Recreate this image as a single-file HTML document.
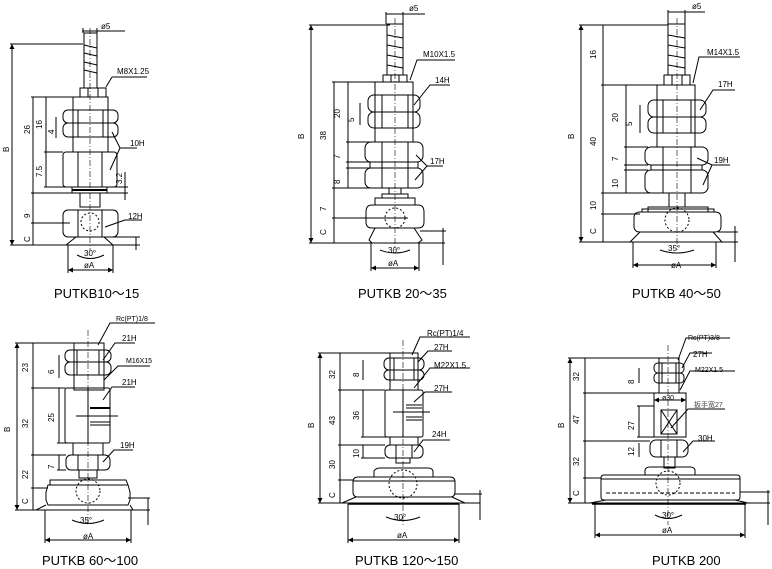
<!DOCTYPE html>
<html><head><meta charset="utf-8"><style>
html,body{margin:0;padding:0;background:#fff;}
svg{display:block}
text{font-family:"Liberation Sans","Noto Sans CJK SC",sans-serif;fill:#000}
.s{font-size:8px}
.t{font-size:13px}
</style></head><body>
<svg width="772" height="569" viewBox="0 0 772 569" xmlns="http://www.w3.org/2000/svg" fill="none" stroke="#000" stroke-width="1">
<defs><marker id="a" viewBox="0 0 6 6" refX="6" refY="3" markerWidth="5" markerHeight="5" orient="auto-start-reverse"><path d="M0,0L6,3L0,6z" fill="#000" stroke="none"/></marker></defs>

<!-- ===== Panel 1 ===== -->
<g>
<line x1="90" y1="28" x2="90" y2="250" stroke-dasharray="6,2,1,2" stroke-width=".6"/>
<path d="M84,33 H97 V88 H84 Z M84,45 L97,48 M84,53 L97,56 M84,62 L97,65 M84,70 L97,73"/>
<rect x="80" y="88" width="26" height="9"/><line x1="88" y1="88" x2="88" y2="97"/><line x1="98" y1="88" x2="98" y2="97"/>
<rect x="73" y="97" width="35" height="55"/>
<rect x="63" y="110" width="55" height="13" rx="5"/><rect x="63" y="123" width="55" height="14" rx="5"/>
<line x1="78" y1="110" x2="78" y2="137"/><line x1="103" y1="110" x2="103" y2="137"/>
<rect x="63" y="152" width="54" height="35" rx="3"/><line x1="78" y1="152" x2="78" y2="187"/><line x1="102" y1="152" x2="102" y2="187"/>
<rect x="72" y="187" width="35" height="6"/><line x1="72" y1="190" x2="107" y2="190" stroke-width="2"/>
<rect x="80" y="193" width="20" height="14"/>
<rect x="63" y="210" width="55" height="27" rx="5"/><line x1="78" y1="210" x2="78" y2="237"/><line x1="102" y1="210" x2="102" y2="237"/>
<circle cx="90" cy="222" r="9" stroke-dasharray="2,2"/>
<path d="M76,237 L66,245 H113 L104,237"/>
<line x1="12" y1="44" x2="12" y2="245" marker-start="url(#a)" marker-end="url(#a)"/>
<line x1="10" y1="44" x2="83" y2="44"/><line x1="10" y1="245" x2="140" y2="245"/>
<line x1="33" y1="97" x2="33" y2="245"/><line x1="46" y1="97" x2="46" y2="187"/>
<line x1="31" y1="97" x2="73" y2="97"/><line x1="31" y1="193" x2="128" y2="193"/><line x1="31" y1="223" x2="70" y2="223"/>
<line x1="44" y1="152" x2="63" y2="152"/><line x1="44" y1="187" x2="128" y2="187"/>
<line x1="56" y1="117" x2="56" y2="138"/>
<line x1="125" y1="172" x2="125" y2="200"/>
<line x1="83" y1="33" x2="83" y2="28"/><line x1="97" y1="33" x2="97" y2="28"/>
<line x1="82" y1="31" x2="125" y2="31"/>
<line x1="106" y1="87" x2="112" y2="77"/><line x1="112" y1="77" x2="147" y2="77"/>
<polyline points="112,132 120,148 137,148"/><line x1="120" y1="148" x2="110" y2="170"/>
<line x1="105" y1="227" x2="125" y2="220"/><line x1="125" y1="220" x2="142" y2="220"/>
<line x1="136" y1="237" x2="136" y2="250"/><line x1="113" y1="237" x2="140" y2="237"/>
<path d="M77,255 Q90,262 104,255"/>
<line x1="68" y1="270" x2="113" y2="270" marker-start="url(#a)" marker-end="url(#a)"/>
<line x1="68" y1="245" x2="68" y2="273"/><line x1="113" y1="245" x2="113" y2="273"/>
<text class="s" x="101" y="29" stroke="none">ø5</text>
<text class="s" x="117" y="74" stroke="none">M8X1.25</text>
<text class="s" x="130" y="146" stroke="none">10H</text>
<text class="s" x="128" y="219" stroke="none">12H</text>
<text class="s" x="84" y="256" stroke="none">30°</text>
<text class="s" x="84" y="268" stroke="none">øA</text>
<text class="s" x="5" y="148" stroke="none" transform="rotate(-90 9 148)">B</text>
<text class="s" x="24" y="128" stroke="none" transform="rotate(-90 30 128)">26</text>
<text class="s" x="24" y="212" stroke="none" transform="rotate(-90 30 212)">9</text>
<text class="s" x="24" y="236" stroke="none" transform="rotate(-90 30 236)">C</text>
<text class="s" x="38" y="125" stroke="none" transform="rotate(-90 42 125)">16</text>
<text class="s" x="50" y="130" stroke="none" transform="rotate(-90 54 130)">4</text>
<text class="s" x="38" y="173" stroke="none" transform="rotate(-90 42 173)">7.5</text>
<text class="s" x="118" y="180" stroke="none" transform="rotate(-90 122 180)">3.2</text>
<text class="t" x="54" y="298" stroke="none">PUTKB10～15</text>
</g>

<!-- ===== Panel 2 ===== -->
<g>
<line x1="395" y1="18" x2="395" y2="250" stroke-dasharray="6,2,1,2" stroke-width=".6"/>
<path d="M387,24 H403 V75 H387 Z M387,35 L403,38 M387,45 L403,48 M387,55 L403,58 M387,65 L403,68"/>
<rect x="383" y="75" width="24" height="7"/><line x1="391" y1="75" x2="391" y2="82"/><line x1="399" y1="75" x2="399" y2="82"/>
<rect x="375" y="82" width="38" height="60"/>
<rect x="368" y="95" width="52" height="17" rx="6"/><rect x="368" y="112" width="52" height="16" rx="6"/>
<line x1="382" y1="95" x2="382" y2="128"/><line x1="408" y1="95" x2="408" y2="128"/>
<rect x="365" y="142" width="58" height="20" rx="6"/><rect x="365" y="168" width="58" height="20" rx="6"/>
<line x1="382" y1="142" x2="382" y2="188"/><line x1="408" y1="142" x2="408" y2="188"/>
<rect x="370" y="162" width="48" height="6"/>
<rect x="389" y="188" width="12" height="6"/>
<rect x="382" y="194" width="26" height="4"/><rect x="375" y="198" width="40" height="7"/>
<path d="M372,205 H418 Q424,205 424,212 V222 Q424,228 418,228 H372 Q366,228 366,222 V212 Q366,205 372,205 Z"/>
<circle cx="395" cy="218" r="10" stroke-dasharray="2,2"/>
<path d="M375,228 L369,240 L372,243 H418 L422,240 L414,228"/>
<line x1="311" y1="25" x2="311" y2="243" marker-start="url(#a)" marker-end="url(#a)"/>
<line x1="309" y1="25" x2="390" y2="25"/><line x1="309" y1="243" x2="445" y2="243"/>
<line x1="334" y1="82" x2="334" y2="243"/><line x1="348" y1="82" x2="348" y2="188"/>
<line x1="332" y1="82" x2="375" y2="82"/><line x1="332" y1="188" x2="370" y2="188"/><line x1="332" y1="218" x2="408" y2="218"/>
<line x1="346" y1="142" x2="370" y2="142"/><line x1="346" y1="162" x2="370" y2="162"/><line x1="346" y1="168" x2="370" y2="168"/>
<line x1="360" y1="103" x2="360" y2="125"/>
<line x1="386" y1="14" x2="425" y2="14"/>
<line x1="386" y1="12" x2="386" y2="24"/><line x1="403" y1="12" x2="403" y2="24"/>
<polyline points="410,80 417,60 455,60"/>
<polyline points="414,105 430,85 450,85"/>
<polyline points="416,155 427,166 443,166"/><line x1="427" y1="166" x2="415" y2="180"/>
<line x1="443" y1="228" x2="443" y2="265"/><line x1="420" y1="231" x2="446" y2="231"/>
<path d="M380,250 Q395,256 410,250"/>
<line x1="371" y1="268" x2="419" y2="268" marker-start="url(#a)" marker-end="url(#a)"/>
<line x1="371" y1="243" x2="371" y2="271"/><line x1="419" y1="243" x2="419" y2="271"/>
<text class="s" x="409" y="11" stroke="none">ø5</text>
<text class="s" x="423" y="57" stroke="none">M10X1.5</text>
<text class="s" x="435" y="83" stroke="none">14H</text>
<text class="s" x="430" y="164" stroke="none">17H</text>
<text class="s" x="388" y="253" stroke="none">30°</text>
<text class="s" x="388" y="266" stroke="none">øA</text>
<text class="s" x="300" y="135" stroke="none" transform="rotate(-90 304 135)">B</text>
<text class="s" x="322" y="136" stroke="none" transform="rotate(-90 326 136)">38</text>
<text class="s" x="322" y="207" stroke="none" transform="rotate(-90 326 207)">7</text>
<text class="s" x="322" y="231" stroke="none" transform="rotate(-90 326 231)">C</text>
<text class="s" x="336" y="114" stroke="none" transform="rotate(-90 340 114)">20</text>
<text class="s" x="350" y="118" stroke="none" transform="rotate(-90 354 118)">5</text>
<text class="s" x="336" y="155" stroke="none" transform="rotate(-90 340 155)">7</text>
<text class="s" x="336" y="180" stroke="none" transform="rotate(-90 340 180)">8</text>
<text class="t" x="358" y="298" stroke="none">PUTKB  20～35</text>
</g>

<!-- ===== Panel 3 ===== -->
<g>
<line x1="677" y1="18" x2="677" y2="250" stroke-dasharray="6,2,1,2" stroke-width=".6"/>
<path d="M668,24 H685 V75 H668 Z M668,35 L685,38 M668,45 L685,48 M668,55 L685,58 M668,65 L685,68"/>
<rect x="664" y="75" width="26" height="10"/><line x1="672" y1="75" x2="672" y2="85"/><line x1="682" y1="75" x2="682" y2="85"/>
<rect x="657" y="85" width="38" height="62"/>
<rect x="648" y="100" width="58" height="17" rx="6"/><rect x="648" y="117" width="58" height="16" rx="6"/>
<line x1="663" y1="100" x2="663" y2="133"/><line x1="691" y1="100" x2="691" y2="133"/>
<rect x="645" y="147" width="63" height="18" rx="6"/><rect x="645" y="170" width="63" height="23" rx="6"/>
<line x1="663" y1="147" x2="663" y2="193"/><line x1="691" y1="147" x2="691" y2="193"/>
<rect x="651" y="165" width="51" height="5"/>
<rect x="669" y="193" width="16" height="14"/>
<rect x="648" y="207" width="60" height="5"/><rect x="642" y="209" width="72" height="3"/>
<path d="M640,212 H715 Q721,212 721,218 V226 Q721,232 715,232 H640 Q634,232 634,226 V218 Q634,212 640,212 Z"/>
<circle cx="677" cy="220" r="12" stroke-dasharray="2,2"/>
<path d="M640,232 L630,242 H722 L713,232"/>
<line x1="581" y1="25" x2="581" y2="242" marker-start="url(#a)" marker-end="url(#a)"/>
<line x1="579" y1="25" x2="668" y2="25"/><line x1="579" y1="242" x2="738" y2="242"/>
<line x1="603" y1="25" x2="603" y2="242"/><line x1="626" y1="85" x2="626" y2="193"/>
<line x1="601" y1="85" x2="664" y2="85"/><line x1="601" y1="193" x2="651" y2="193"/><line x1="601" y1="214" x2="640" y2="214"/>
<line x1="624" y1="147" x2="648" y2="147"/><line x1="624" y1="165" x2="648" y2="165"/><line x1="624" y1="170" x2="648" y2="170"/>
<line x1="640" y1="105" x2="640" y2="133"/>
<line x1="668" y1="12" x2="705" y2="12"/><line x1="668" y1="10" x2="668" y2="24"/><line x1="685" y1="10" x2="685" y2="24"/>
<polyline points="693,83 699,57 740,57"/>
<polyline points="700,110 713,90 735,90"/>
<polyline points="697,158 712,165 730,165"/><line x1="712" y1="165" x2="703" y2="185"/>
<line x1="735" y1="226" x2="735" y2="262"/><line x1="718" y1="232" x2="738" y2="232"/>
<path d="M660,250 Q677,256 694,250"/>
<line x1="633" y1="265" x2="716" y2="265" marker-start="url(#a)" marker-end="url(#a)"/>
<line x1="633" y1="242" x2="633" y2="268"/><line x1="716" y1="242" x2="716" y2="268"/>
<text class="s" x="692" y="9" stroke="none">ø5</text>
<text class="s" x="707" y="55" stroke="none">M14X1.5</text>
<text class="s" x="718" y="87" stroke="none">17H</text>
<text class="s" x="714" y="163" stroke="none">19H</text>
<text class="s" x="668" y="251" stroke="none">35°</text>
<text class="s" x="671" y="268" stroke="none">øA</text>
<text class="s" x="570" y="135" stroke="none" transform="rotate(-90 574 135)">B</text>
<text class="s" x="592" y="55" stroke="none" transform="rotate(-90 596 55)">16</text>
<text class="s" x="592" y="142" stroke="none" transform="rotate(-90 596 142)">40</text>
<text class="s" x="592" y="206" stroke="none" transform="rotate(-90 596 206)">10</text>
<text class="s" x="592" y="230" stroke="none" transform="rotate(-90 596 230)">C</text>
<text class="s" x="614" y="118" stroke="none" transform="rotate(-90 618 118)">20</text>
<text class="s" x="628" y="122" stroke="none" transform="rotate(-90 632 122)">5</text>
<text class="s" x="614" y="157" stroke="none" transform="rotate(-90 618 157)">7</text>
<text class="s" x="614" y="184" stroke="none" transform="rotate(-90 618 184)">10</text>
<text class="t" x="632" y="298" stroke="none">PUTKB  40～50</text>
</g>

<!-- ===== Panel 4 ===== -->
<g>
<line x1="88" y1="330" x2="88" y2="525" stroke-dasharray="6,2,1,2" stroke-width=".6"/>
<rect x="74" y="343" width="30" height="47"/>
<rect x="65" y="350" width="46" height="12" rx="5"/><rect x="65" y="362" width="46" height="13" rx="5"/>
<line x1="77" y1="350" x2="77" y2="375"/><line x1="99" y1="350" x2="99" y2="375"/>
<rect x="65" y="388" width="45" height="55" rx="2"/><line x1="88" y1="388" x2="88" y2="443"/>
<line x1="90" y1="408" x2="110" y2="408" stroke-width="2"/><line x1="90" y1="422" x2="110" y2="422"/><line x1="90" y1="425" x2="110" y2="425"/>
<line x1="76" y1="416" x2="118" y2="416"/>
<rect x="73" y="443" width="30" height="12"/>
<rect x="66" y="455" width="44" height="15" rx="5"/><line x1="78" y1="455" x2="78" y2="470"/><line x1="98" y1="455" x2="98" y2="470"/>
<rect x="79" y="470" width="18" height="8"/>
<path d="M50,485 L50,480 H126 L128,485 Z"/>
<path d="M48,485 H128 L130,492 V500 L128,505 H48 L46,500 V492 Z"/>
<circle cx="88" cy="491" r="12" stroke-dasharray="2,2"/>
<path d="M46,505 L36,510 H133 L130,505"/>
<line x1="17" y1="343" x2="17" y2="510" marker-start="url(#a)" marker-end="url(#a)"/>
<line x1="15" y1="343" x2="74" y2="343"/><line x1="15" y1="510" x2="150" y2="510"/>
<line x1="33" y1="343" x2="33" y2="510"/><line x1="59" y1="355" x2="59" y2="378"/>
<line x1="31" y1="388" x2="65" y2="388"/><line x1="31" y1="455" x2="66" y2="455"/><line x1="31" y1="488" x2="48" y2="488"/>
<line x1="59" y1="388" x2="59" y2="443"/><line x1="57" y1="443" x2="73" y2="443"/>
<line x1="59" y1="455" x2="59" y2="470"/><line x1="57" y1="470" x2="66" y2="470"/>
<polyline points="98,345 110,323 155,323"/>
<polyline points="103,360 115,343 135,343"/>
<polyline points="104,380 118,366 150,366"/>
<polyline points="103,400 112,387 135,387"/>
<polyline points="103,462 114,450 133,450"/>
<line x1="148" y1="498" x2="148" y2="525"/><line x1="128" y1="498" x2="150" y2="498"/>
<path d="M72,520 Q88,527 104,520"/>
<line x1="45" y1="540" x2="131" y2="540" marker-start="url(#a)" marker-end="url(#a)"/>
<line x1="45" y1="510" x2="45" y2="543"/><line x1="131" y1="510" x2="131" y2="543"/>
<text class="s" x="116" y="321" stroke="none" style="font-size:7px">Rc(PT)1/8</text>
<text class="s" x="122" y="341" stroke="none">21H</text>
<text class="s" x="126" y="363" stroke="none" style="font-size:7px">M16X15</text>
<text class="s" x="122" y="385" stroke="none">21H</text>
<text class="s" x="120" y="448" stroke="none">19H</text>
<text class="s" x="80" y="523" stroke="none">35°</text>
<text class="s" x="83" y="539" stroke="none">øA</text>
<text class="s" x="6" y="428" stroke="none" transform="rotate(-90 10 428)">B</text>
<text class="s" x="24" y="368" stroke="none" transform="rotate(-90 28 368)">23</text>
<text class="s" x="24" y="424" stroke="none" transform="rotate(-90 28 424)">32</text>
<text class="s" x="24" y="475" stroke="none" transform="rotate(-90 28 475)">22</text>
<text class="s" x="24" y="500" stroke="none" transform="rotate(-90 28 500)">C</text>
<text class="s" x="50" y="370" stroke="none" transform="rotate(-90 54 370)">6</text>
<text class="s" x="50" y="418" stroke="none" transform="rotate(-90 54 418)">25</text>
<text class="s" x="50" y="465" stroke="none" transform="rotate(-90 54 465)">7</text>
<text class="t" x="42" y="565" stroke="none">PUTKB  60～100</text>
</g>

<!-- ===== Panel 5 ===== -->
<g>
<line x1="403" y1="340" x2="403" y2="525" stroke-dasharray="6,2,1,2" stroke-width=".6"/>
<rect x="390" y="353" width="28" height="37"/>
<rect x="384" y="358" width="40" height="12" rx="5"/><rect x="384" y="370" width="40" height="10" rx="5"/>
<line x1="394" y1="358" x2="394" y2="380"/><line x1="414" y1="358" x2="414" y2="380"/>
<rect x="385" y="390" width="38" height="47" rx="2"/><line x1="403" y1="390" x2="403" y2="437"/>
<line x1="406" y1="405" x2="422" y2="405"/><line x1="406" y1="408" x2="422" y2="408"/><line x1="406" y1="417" x2="422" y2="417"/><line x1="406" y1="420" x2="422" y2="420"/>
<line x1="393" y1="412" x2="430" y2="412"/>
<rect x="390" y="437" width="28" height="8"/>
<rect x="385" y="445" width="38" height="13" rx="5"/><line x1="396" y1="445" x2="396" y2="458"/><line x1="412" y1="445" x2="412" y2="458"/>
<rect x="396" y="458" width="14" height="5"/>
<path d="M374,477 V471 Q376,468 380,468 H428 Q432,468 433,471 V477"/>
<path d="M358,477 H450 Q455,477 455,482 V492 Q455,497 450,497 H358 Q353,497 353,492 V482 Q353,477 358,477 Z"/>
<line x1="353" y1="481" x2="455" y2="481"/>
<circle cx="403" cy="484" r="14" stroke-dasharray="2,2"/>
<path d="M356,497 L342,503 H465 L452,497"/>
<line x1="348" y1="504" x2="459" y2="504" stroke-width="1.5"/>
<line x1="320" y1="353" x2="320" y2="503" marker-start="url(#a)" marker-end="url(#a)"/>
<line x1="318" y1="353" x2="390" y2="353"/><line x1="318" y1="503" x2="480" y2="503"/>
<line x1="340" y1="353" x2="340" y2="503"/><line x1="363" y1="360" x2="363" y2="380"/>
<line x1="338" y1="390" x2="385" y2="390"/><line x1="338" y1="445" x2="385" y2="445"/><line x1="338" y1="480" x2="353" y2="480"/>
<line x1="363" y1="390" x2="363" y2="437"/><line x1="361" y1="437" x2="390" y2="437"/>
<line x1="363" y1="445" x2="363" y2="458"/><line x1="361" y1="458" x2="385" y2="458"/>
<polyline points="412,355 420,337 470,337"/>
<polyline points="418,362 428,351 452,351"/>
<polyline points="414,388 430,368 470,368"/>
<polyline points="414,402 425,392 452,392"/>
<polyline points="414,452 423,440 450,440"/>
<line x1="480" y1="490" x2="480" y2="520"/><line x1="455" y1="494" x2="482" y2="494"/>
<path d="M386,517 Q403,524 420,517"/>
<line x1="348" y1="540" x2="459" y2="540" marker-start="url(#a)" marker-end="url(#a)"/>
<line x1="348" y1="504" x2="348" y2="543"/><line x1="459" y1="504" x2="459" y2="543"/>
<text class="s" x="427" y="336" stroke="none">Rc(PT)1/4</text>
<text class="s" x="434" y="350" stroke="none">27H</text>
<text class="s" x="434" y="368" stroke="none">M22X1.5</text>
<text class="s" x="434" y="391" stroke="none">27H</text>
<text class="s" x="432" y="437" stroke="none">24H</text>
<text class="s" x="394" y="520" stroke="none">30°</text>
<text class="s" x="397" y="538" stroke="none">øA</text>
<text class="s" x="310" y="424" stroke="none" transform="rotate(-90 314 424)">B</text>
<text class="s" x="331" y="375" stroke="none" transform="rotate(-90 335 375)">32</text>
<text class="s" x="331" y="421" stroke="none" transform="rotate(-90 335 421)">43</text>
<text class="s" x="331" y="465" stroke="none" transform="rotate(-90 335 465)">30</text>
<text class="s" x="331" y="494" stroke="none" transform="rotate(-90 335 494)">C</text>
<text class="s" x="355" y="373" stroke="none" transform="rotate(-90 359 373)">8</text>
<text class="s" x="355" y="416" stroke="none" transform="rotate(-90 359 416)">36</text>
<text class="s" x="355" y="454" stroke="none" transform="rotate(-90 359 454)">10</text>
<text class="t" x="355" y="565" stroke="none">PUTKB  120～150</text>
</g>

<!-- ===== Panel 6 ===== -->
<g>
<line x1="668" y1="345" x2="668" y2="525" stroke-dasharray="6,2,1,2" stroke-width=".6"/>
<rect x="659" y="358" width="20" height="35"/>
<rect x="654" y="363" width="30" height="10" rx="4"/><rect x="654" y="373" width="30" height="10" rx="4"/>
<line x1="662" y1="363" x2="662" y2="383"/><line x1="676" y1="363" x2="676" y2="383"/>
<rect x="654" y="393" width="32" height="44"/>
<rect x="661" y="410" width="16" height="24"/><line x1="661" y1="410" x2="677" y2="434"/><line x1="677" y1="410" x2="661" y2="434"/>
<line x1="654" y1="400" x2="686" y2="400" marker-start="url(#a)" marker-end="url(#a)"/>
<rect x="650" y="440" width="38" height="17" rx="6"/><line x1="661" y1="440" x2="661" y2="457"/><line x1="677" y1="440" x2="677" y2="457"/>
<rect x="664" y="457" width="11" height="11"/>
<path d="M645,475 V470 Q646,467 650,467 H690 Q694,467 695,470 V475"/>
<path d="M604,475 H737 Q740,475 740,478 V497 Q740,500 737,500 H604 Q601,500 601,497 V478 Q601,475 604,475 Z"/>
<line x1="601" y1="479" x2="740" y2="479"/>
<line x1="606" y1="493" x2="735" y2="493" stroke-dasharray="4,2"/>
<circle cx="668" cy="483" r="12" stroke-dasharray="2,2"/>
<path d="M606,500 L590,503 H748 L735,500"/>
<line x1="592" y1="504" x2="746" y2="504" stroke-width="1.5"/>
<line x1="570" y1="358" x2="570" y2="503" marker-start="url(#a)" marker-end="url(#a)"/>
<line x1="568" y1="358" x2="659" y2="358"/><line x1="568" y1="503" x2="770" y2="503"/>
<line x1="585" y1="358" x2="585" y2="503"/><line x1="639" y1="368" x2="639" y2="383"/>
<line x1="583" y1="393" x2="654" y2="393"/><line x1="583" y1="441" x2="650" y2="441"/><line x1="583" y1="478" x2="601" y2="478"/>
<line x1="639" y1="406" x2="639" y2="437"/><line x1="637" y1="406" x2="654" y2="406"/><line x1="637" y1="437" x2="654" y2="437"/>
<line x1="639" y1="443" x2="639" y2="457"/>
<polyline points="678,360 686,338 730,338"/>
<polyline points="682,368 690,353 712,353"/>
<polyline points="680,390 690,371 735,371"/>
<polyline points="671,428 688,409 725,409"/>
<polyline points="683,452 693,441 715,441"/>
<line x1="768" y1="490" x2="768" y2="525"/><line x1="740" y1="492" x2="770" y2="492"/>
<path d="M655,515 Q668,522 682,515"/>
<line x1="595" y1="535" x2="745" y2="535" marker-start="url(#a)" marker-end="url(#a)"/>
<line x1="595" y1="504" x2="595" y2="538"/><line x1="745" y1="504" x2="745" y2="538"/>
<text class="s" x="688" y="340" stroke="none" style="font-size:7px">Rc(PT)3/8</text>
<text class="s" x="693" y="357" stroke="none">27H</text>
<text class="s" x="695" y="372" stroke="none" style="font-size:7px">M22X1.5</text>
<text class="s" x="662" y="400" stroke="none" style="font-size:7px">ø30</text>
<text class="s" x="694" y="407" stroke="none" style="font-size:7px;fill:#444">扳手宽27</text>
<text class="s" x="698" y="441" stroke="none">30H</text>
<text class="s" x="662" y="518" stroke="none">30°</text>
<text class="s" x="662" y="533" stroke="none">øA</text>
<text class="s" x="560" y="424" stroke="none" transform="rotate(-90 564 424)">B</text>
<text class="s" x="575" y="377" stroke="none" transform="rotate(-90 579 377)">32</text>
<text class="s" x="575" y="420" stroke="none" transform="rotate(-90 579 420)">47</text>
<text class="s" x="575" y="462" stroke="none" transform="rotate(-90 579 462)">32</text>
<text class="s" x="575" y="492" stroke="none" transform="rotate(-90 579 492)">C</text>
<text class="s" x="630" y="380" stroke="none" transform="rotate(-90 634 380)">8</text>
<text class="s" x="630" y="426" stroke="none" transform="rotate(-90 634 426)">27</text>
<text class="s" x="630" y="452" stroke="none" transform="rotate(-90 634 452)">12</text>
<text class="t" x="652" y="565" stroke="none">PUTKB  200</text>
</g>
</svg>
</body></html>
